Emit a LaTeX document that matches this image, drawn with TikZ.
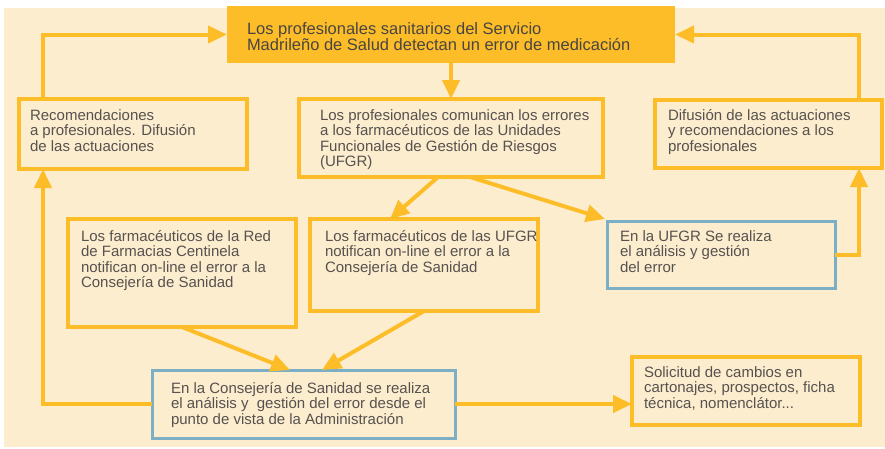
\documentclass[tikz,border=0pt]{standalone}
\usepackage{fontspec}
\setmainfont{Liberation Sans}
\usetikzlibrary{arrows.meta,calc}
\definecolor{bgc}{HTML}{FDEDCF}
\definecolor{orc}{HTML}{FDBD28}
\definecolor{blc}{HTML}{7AAFC6}
\definecolor{txc}{HTML}{57524F}
\definecolor{txt}{HTML}{4A4542}
\newcommand\bx[5]{\parbox[c][#2pt][t]{#1pt}{\raggedright\leftskip=#3pt\relax\rule{0pt}{#4pt}#5}}
\tikzset{
  obox/.style={draw=orc, line width=3.5pt, inner sep=0pt, outer sep=0pt, anchor=north west},
  bbox/.style={draw=blc, line width=3pt, inner sep=0pt, outer sep=0pt, anchor=north west},
  tbox/.style={fill=orc, draw=none, inner sep=0pt, outer sep=0pt, anchor=north west, text=txt},
  arr/.style={draw=orc, line width=4pt, -{Triangle[length=19pt,width=17pt]}}
}
\begin{document}
\begin{tikzpicture}[x=1pt,y=-1pt,font=\fontsize{15}{15.5}\selectfont,text=txc]
\useasboundingbox (0,0) rectangle (885,448);
\fill[white] (0,0) rectangle (885,448);
\fill[bgc] (4,8) rectangle (885,447);
\node[tbox] (T) at (227,6) {\bx{448}{57}{20}{28}{\fontsize{16.5}{16}\selectfont Los profesionales sanitarios del Servicio\\Madrileño de Salud detectan un error de medicación}};
\node[obox] (R) at (19,99) {\bx{228}{70}{11}{21}{Recomendaciones\\a profesionales. Difusión\\de las actuaciones}};
\node[obox] (C) at (299,99) {\bx{304}{78}{21}{21}{Los profesionales comunican los errores\\a los farmacéuticos de las Unidades\\Funcionales de Gestión de Riesgos\\(UFGR)}};
\node[obox] (D) at (655,100) {\bx{227}{68}{13}{20}{Difusión de las actuaciones\\y recomendaciones a los\\profesionales}};
\node[obox] (F1) at (68,219) {\bx{228}{108}{13}{22}{Los farmacéuticos de la Red\\de Farmacias Centinela\\notifican on-line el error a la\\Consejería de Sanidad}};
\node[obox] (F2) at (310,219) {\bx{228}{92}{15}{22}{Los farmacéuticos de las UFGR\\notifican on-line el error a la\\Consejería de Sanidad}};
\node[bbox] (U) at (607,221) {\bx{228}{67}{13}{20}{En la UFGR Se realiza\\el análisis y gestión\\del error}};
\node[bbox] (K) at (152,370) {\bx{303}{68}{19}{23}{En la Consejería de Sanidad se realiza\\el análisis y\ \ gestión del error desde el\\punto de vista de la Administración}};
\node[obox] (S) at (632,357) {\bx{228}{68}{12}{20}{Solicitud de cambios en\\cartonajes, prospectos, ficha\\técnica, nomenclátor...}};
\draw[arr] (T.south) -- (C.north);
\draw[arr] ([xshift=24pt]R.north west) |- (T.west);
\draw[arr] ([xshift=-23pt]D.north east) |- (T.east);
\draw[arr] (K.west) -| ([xshift=24pt]R.south west);
\draw[arr] (U.east) -| ([xshift=-23pt]D.south east);
\draw[arr] (K.east) -- (K.east -| S.west);
\draw[arr] ([xshift=139pt]C.south west) -- ([xshift=80pt]F2.north west);
\draw[arr] ([xshift=171pt]C.south west) -- ([xshift=-2pt,yshift=2pt]U.north west);
\draw[arr] (F1.south) -- ([xshift=138pt]K.north west);
\draw[arr] (F2.south) -- ([xshift=170pt]K.north west);
\end{tikzpicture}
\end{document}
